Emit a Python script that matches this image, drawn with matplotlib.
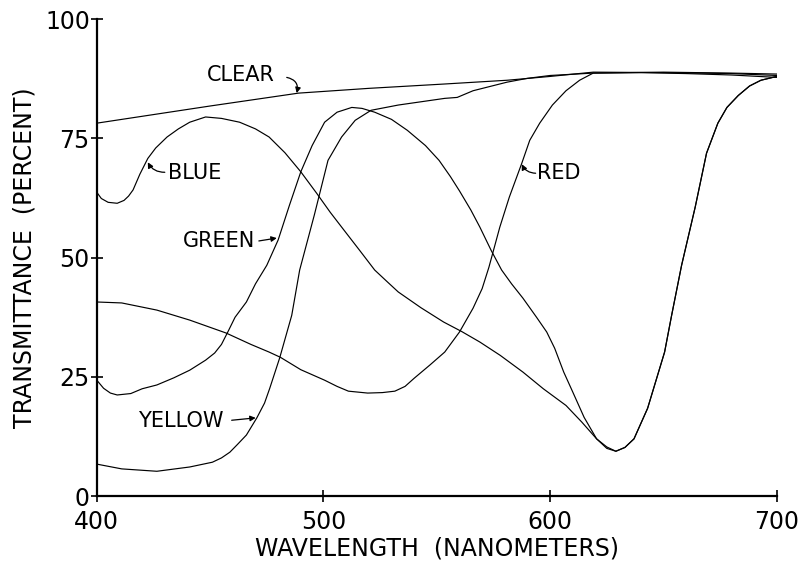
import matplotlib
matplotlib.use('Agg')
import matplotlib.pyplot as plt

plt.rcParams['font.family'] = ['DejaVu Sans']

# transmittance curves (wavelength nm, percent)
clear_nm = [400, 425, 450, 476, 489, 520, 553, 581, 600, 619, 650, 680, 700]
clear_t = [78.2, 80.0, 81.8, 83.6, 84.5, 85.5, 86.4, 87.2, 88.0, 88.9, 88.8, 88.6, 88.2]

# blue and green share the same infrared rise after the 630 nm dip
ir_nm = [633, 637, 643, 650.5, 653.6, 658, 664, 669, 674, 678, 683, 688, 693, 700]
ir_t = [10.2, 12.0, 18.4, 30.2, 37.9, 48.4, 60.6, 71.9, 78.2, 81.5, 84.0, 86.0, 87.2, 88.0]

blue_nm = [400, 402, 405, 409, 412, 414, 416, 419, 422.5, 426, 431, 436, 441, 448, 455, 463,
           470, 476, 483, 490, 497, 503, 509, 516, 522.6, 528, 533, 543, 553, 561,
           569, 578, 588, 597, 607, 614, 620.5, 625, 629] + ir_nm
blue_t = [63.7, 62.4, 61.6, 61.4, 62.0, 62.9, 64.2, 67.5, 70.8, 73.0, 75.3, 77.0, 78.4, 79.5, 79.2, 78.4,
          77.0, 75.3, 72.0, 68.0, 63.5, 59.5, 55.8, 51.5, 47.4, 45.0, 42.8, 39.5, 36.5, 34.5,
          32.3, 29.5, 26.0, 22.5, 19.0, 15.5, 12.0, 10.3, 9.4] + ir_t

green_nm = [400, 403, 406, 409, 415, 420, 426.5, 434, 441, 448, 452, 455, 458, 461, 466, 470,
            475, 480, 485, 490, 495, 500.5, 506, 512.5, 517, 522.6, 530, 537, 545, 551,
            556, 560, 565, 569, 574, 578.6, 583, 588, 594, 598.5, 602, 606, 610, 615,
            620.5, 625, 629] + ir_nm
green_t = [24.3, 22.6, 21.6, 21.2, 21.5, 22.5, 23.3, 24.8, 26.4, 28.5, 30.0, 31.8, 34.6, 37.5, 40.7, 44.5,
           48.4, 53.7, 61.0, 68.0, 73.5, 78.4, 80.5, 81.5, 81.3, 80.5, 79.0, 76.7, 73.5, 70.4,
           67.0, 64.0, 60.0, 56.4, 51.5, 47.4, 44.5, 41.5, 37.5, 34.4, 31.0, 26.0, 21.8, 16.5,
           12.0, 10.0, 9.4] + ir_t

red_nm = [400, 411, 426.5, 441, 457, 468, 476, 481, 490, 500.5, 506, 511, 519.5, 526,
          531.5, 536, 540, 547, 553.5, 560, 566, 570, 573, 577.8, 582, 587.5, 591, 595.4,
          601, 607, 613, 619, 640, 660, 680, 700]
red_t = [40.7, 40.5, 39.0, 36.9, 34.2, 31.8, 30.2, 29.1, 26.5, 24.3, 23.0, 22.0, 21.6, 21.7,
         22.0, 23.0, 24.7, 27.5, 30.2, 34.4, 39.4, 43.5, 48.0, 56.4, 62.7, 69.8, 74.6, 78.2,
         82.0, 85.0, 87.2, 88.7, 88.8, 88.6, 88.3, 87.8]

yellow_nm = [400, 411, 426.5, 441, 451, 455, 458.7, 462, 466, 470.6, 474, 476.3, 480.7,
             486, 489.5, 496, 502, 508, 514, 521, 533, 553.5, 559, 566, 581, 590, 600,
             619, 650, 680, 700]
yellow_t = [6.7, 5.7, 5.2, 6.1, 7.1, 8.0, 9.2, 10.8, 12.8, 16.4, 19.5, 22.6, 29.0,
            37.9, 47.4, 59.0, 70.4, 75.3, 78.8, 80.9, 82.0, 83.4, 83.6, 85.0, 86.8, 87.6, 88.2,
            88.7, 88.9, 88.7, 88.5]

xticks = [400, 500, 600, 700]
yticks = [0, 25, 50, 75, 100]

fig = plt.figure(figsize=(8, 5.65), dpi=100)
ax = fig.add_axes([0.121, 0.122, 0.850, 0.844])

for nm, t in [(clear_nm, clear_t), (blue_nm, blue_t), (green_nm, green_t),
              (red_nm, red_t), (yellow_nm, yellow_t)]:
    ax.plot(nm, t, color='black', lw=0.85, solid_joinstyle='round')

ax.set_xlim(400, 700)
ax.set_ylim(0, 100)
ax.spines['top'].set_visible(False)
ax.spines['right'].set_visible(False)
for s in ['left', 'bottom']:
    ax.spines[s].set_linewidth(1.6)

ax.set_xticks(xticks)
ax.set_yticks(yticks)
ax.tick_params(direction='inout', length=8, width=1.2, labelsize=17, colors='black')
ax.tick_params(axis='x', pad=6)
ax.tick_params(axis='y', pad=1)

ax.set_xlabel('WAVELENGTH  (NANOMETERS)', fontsize=17, labelpad=2)
ax.set_ylabel('TRANSMITTANCE  (PERCENT)', fontsize=17, labelpad=6)

# curve names with their pointer arrows
lab = dict(fontsize=15, va='center', ha='left')
ax.text(448.5, 88.3, 'CLEAR', **lab)
ax.text(431.3, 67.7, 'BLUE', **lab)
ax.text(438.0, 53.5, 'GREEN', **lab)
ax.text(418.0, 15.7, 'YELLOW', **lab)
ax.text(594.0, 67.7, 'RED', **lab)

arrow = dict(arrowstyle='-|>', lw=0.9, color='black', mutation_scale=8,
             shrinkA=0, shrinkB=0)
ax.annotate('', xy=(488.2, 84.5), xytext=(483.8, 87.8),
            arrowprops=dict(arrow, connectionstyle='arc3,rad=-0.5'))
ax.annotate('', xy=(422.5, 70.0), xytext=(430.0, 67.9),
            arrowprops=dict(arrow, connectionstyle='arc3,rad=-0.3'))
ax.annotate('', xy=(479.4, 54.1), xytext=(471.5, 53.5), arrowprops=arrow)
ax.annotate('', xy=(470.1, 16.4), xytext=(459.5, 15.9), arrowprops=arrow)
ax.annotate('', xy=(587.5, 69.6), xytext=(593.6, 67.7),
            arrowprops=dict(arrow, connectionstyle='arc3,rad=-0.3'))

plt.savefig('out.png', dpi=100)
